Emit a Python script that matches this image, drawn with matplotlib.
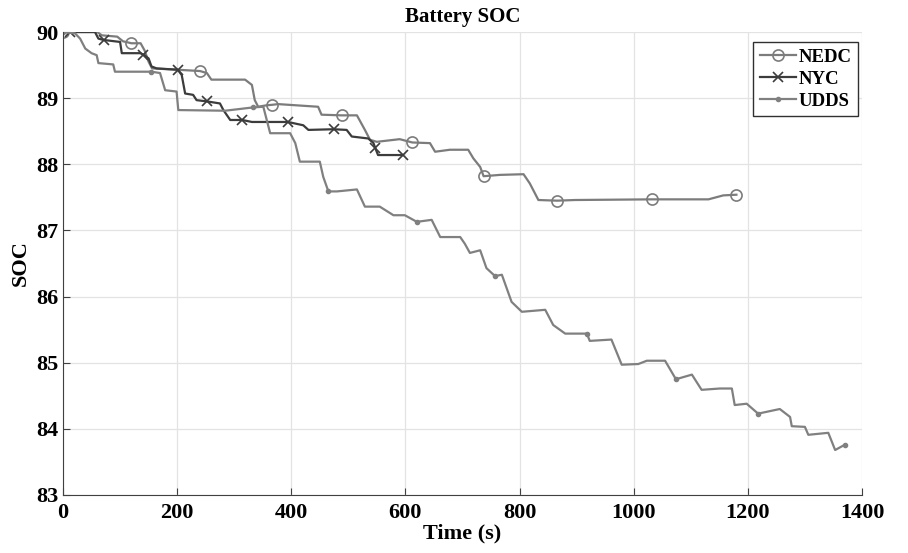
import numpy as np
import matplotlib
matplotlib.use("Agg")
import matplotlib.pyplot as plt

plt.rcParams["font.family"] = ["Liberation Serif", "DejaVu Serif"]
plt.rcParams["font.weight"] = "bold"

# NEDC cycle
nedc_t = [0, 60, 68, 95, 105, 120, 136, 143, 150, 156, 200, 240, 252, 260,
          319, 331, 336, 342, 355, 367, 377, 447, 453, 488, 515, 529, 538,
          550, 590, 612, 643, 652, 678, 710, 719, 731, 737, 766, 807, 818,
          833, 866, 897, 1032, 1131, 1157, 1180]
nedc_soc = [90.0, 90.0, 89.95, 89.93, 89.86, 89.83, 89.83, 89.72, 89.55,
            89.45, 89.43, 89.41, 89.38, 89.28, 89.28, 89.20, 88.97, 88.87,
            88.89, 88.90, 88.91, 88.87, 88.75, 88.74, 88.74, 88.52, 88.37,
            88.34, 88.38, 88.33, 88.32, 88.19, 88.22, 88.22, 88.09, 87.96,
            87.82, 87.84, 87.85, 87.71, 87.46, 87.45, 87.46, 87.47, 87.47,
            87.53, 87.54]
nedc_marks = [0, 120, 240, 367, 488, 612, 737, 866, 1032, 1180]

# NYC cycle
nyc_t = [0, 12, 56, 62, 71, 100, 103, 135, 141, 150, 155, 164, 201, 208,
         214, 228, 234, 253, 275, 281, 293, 314, 331, 394, 421, 430, 474,
         497, 506, 535, 544, 547, 552, 596]
nyc_soc = [90.0, 90.0, 90.0, 89.90, 89.88, 89.85, 89.68, 89.68, 89.66,
           89.60, 89.48, 89.45, 89.43, 89.35, 89.07, 89.05, 88.97, 88.95,
           88.92, 88.82, 88.67, 88.67, 88.64, 88.64, 88.59, 88.52, 88.53,
           88.52, 88.42, 88.39, 88.32, 88.25, 88.14, 88.14]
nyc_marks = [12, 71, 141, 201, 253, 314, 394, 474, 547, 596]

# UDDS cycle
udds_t = [0, 21, 30, 39, 50, 59, 62, 88, 91, 155, 170, 179, 199, 202, 284,
          333, 351, 357, 363, 398, 407, 415, 450, 456, 465, 480, 515, 529,
          555, 579, 599, 620, 646, 661, 696, 704, 713, 731, 742, 757, 769,
          786, 804, 845, 859, 880, 918, 923, 961, 979, 1008, 1023, 1055,
          1074, 1102, 1119, 1151, 1172, 1177, 1198, 1218, 1256, 1274, 1277,
          1300, 1306, 1341, 1353, 1370]
udds_soc = [90.0, 89.98, 89.90, 89.75, 89.68, 89.65, 89.53, 89.51, 89.40,
            89.40, 89.38, 89.12, 89.10, 88.82, 88.81, 88.86, 88.87, 88.67,
            88.47, 88.47, 88.32, 88.04, 88.04, 87.81, 87.59, 87.59, 87.62,
            87.36, 87.36, 87.23, 87.23, 87.13, 87.16, 86.90, 86.90, 86.80,
            86.66, 86.70, 86.43, 86.31, 86.33, 85.92, 85.77, 85.80, 85.57,
            85.44, 85.44, 85.33, 85.35, 84.97, 84.98, 85.03, 85.03, 84.75,
            84.82, 84.59, 84.61, 84.61, 84.36, 84.38, 84.23, 84.30, 84.18,
            84.04, 84.03, 83.91, 83.94, 83.68, 83.76]
udds_marks = [0, 155, 333, 465, 620, 757, 918, 1074, 1218, 1370]

x_ticks = [0, 200, 400, 600, 800, 1000, 1200, 1400]
y_ticks = [83, 84, 85, 86, 87, 88, 89, 90]


def mark_idx(t, marks):
    return list(np.where(np.isin(t, marks))[0])


fig = plt.figure(figsize=(9.08, 5.53), dpi=100)
ax = fig.add_axes([0.0694, 0.1049, 0.8799, 0.8372])

ax.plot(nedc_t, nedc_soc, color="#7c7c7c", lw=1.6, marker="o", ms=8,
        mfc="none", mew=1.2, markevery=mark_idx(nedc_t, nedc_marks),
        label="NEDC")
ax.plot(nyc_t, nyc_soc, color="#3c3c3c", lw=1.6, marker="x", ms=7,
        mew=1.2, markevery=mark_idx(nyc_t, nyc_marks), label="NYC")
ax.plot(udds_t, udds_soc, color="#808080", lw=1.6, marker=".", ms=6,
        markevery=mark_idx(udds_t, udds_marks), label="UDDS")

ax.set_xlim(0, 1400)
ax.set_ylim(83, 90)
ax.set_xticks(x_ticks)
ax.set_yticks(y_ticks)
ax.grid(True, color="#e3e3e3", lw=0.9)
ax.set_axisbelow(True)
for s in ["top", "right"]:
    ax.spines[s].set_visible(False)
for s in ["left", "bottom"]:
    ax.spines[s].set_color("#404040")
ax.tick_params(direction="in", length=5, color="#404040", labelsize=16,
               pad=3)
ax.tick_params(axis="x", pad=6)
for lab in ax.get_xticklabels() + ax.get_yticklabels():
    lab.set_fontweight("bold")

ax.set_title("Battery SOC", fontsize=15, fontweight="bold", pad=7)
ax.set_xlabel("Time (s)", fontsize=16, fontweight="bold", labelpad=0)
ax.set_ylabel("SOC", fontsize=16, fontweight="bold", labelpad=4)

leg = ax.legend(loc="upper right", fontsize=13.5, numpoints=1,
                handlelength=1.9, handletextpad=0.15, borderpad=0.35,
                labelspacing=0.25, fancybox=False, framealpha=1,
                edgecolor="#303030", borderaxespad=0,
                bbox_to_anchor=(0.995, 0.978))
leg.get_frame().set_linewidth(1.0)
for t in leg.get_texts():
    t.set_fontweight("bold")

fig.savefig("out.png", dpi=100)
